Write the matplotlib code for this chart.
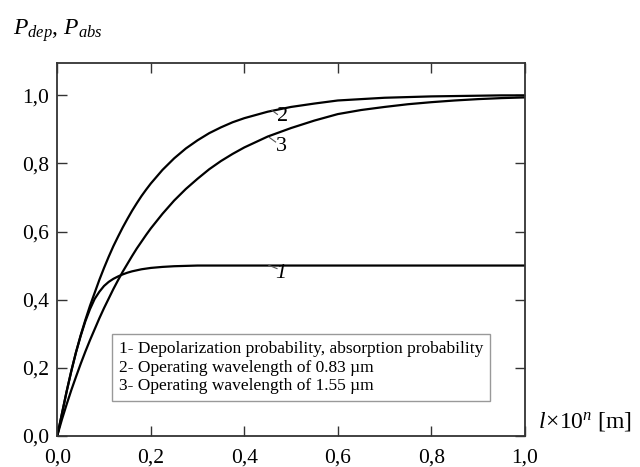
import numpy as np
from matplotlib import pyplot as plt

plt.rcParams['font.family'] = ['Liberation Serif', 'DejaVu Serif']
plt.rcParams['mathtext.fontset'] = 'custom'
plt.rcParams['mathtext.rm'] = 'Liberation Serif'
plt.rcParams['mathtext.it'] = 'Liberation Serif:italic'

# values
x = [0.0, 0.01, 0.02, 0.03, 0.04, 0.05, 0.06, 0.07, 0.08, 0.09, 0.10,
     0.11, 0.12, 0.13, 0.14, 0.15, 0.16, 0.17, 0.18, 0.19, 0.20,
     0.225, 0.25, 0.275, 0.30, 0.325, 0.35, 0.375, 0.40, 0.45, 0.50,
     0.55, 0.60, 0.65, 0.70, 0.75, 0.80, 0.85, 0.90, 0.95, 1.00]
p_dep = [0.0, 0.065, 0.13, 0.19, 0.245, 0.293, 0.336, 0.372, 0.402, 0.423, 0.44,
         0.452, 0.461, 0.468, 0.474, 0.479, 0.483, 0.486, 0.489, 0.491, 0.493,
         0.496, 0.498, 0.499, 0.5, 0.5, 0.5, 0.5, 0.5, 0.5, 0.5,
         0.5, 0.5, 0.5, 0.5, 0.5, 0.5, 0.5, 0.5, 0.5, 0.5]
p_083 = [0.0, 0.065, 0.13, 0.19, 0.245, 0.295, 0.34, 0.382, 0.42, 0.458, 0.493,
         0.526, 0.557, 0.585, 0.612, 0.637, 0.661, 0.683, 0.704, 0.723, 0.741,
         0.781, 0.815, 0.844, 0.868, 0.889, 0.906, 0.921, 0.933, 0.952, 0.966,
         0.976, 0.985, 0.989, 0.993, 0.995, 0.997, 0.998, 0.999, 1.0, 1.0]
p_155 = [0.0, 0.048, 0.092, 0.134, 0.173, 0.211, 0.247, 0.281, 0.313, 0.345, 0.375,
         0.403, 0.431, 0.457, 0.482, 0.505, 0.528, 0.55, 0.57, 0.59, 0.609,
         0.652, 0.691, 0.725, 0.755, 0.783, 0.807, 0.828, 0.847, 0.879, 0.904,
         0.926, 0.945, 0.957, 0.966, 0.974, 0.98, 0.985, 0.989, 0.992, 0.994]

x_ticks = [0.0, 0.2, 0.4, 0.6, 0.8, 1.0]
x_labels = ['0,0', '0,2', '0,4', '0,6', '0,8', '1,0']
y_ticks = [0.0, 0.2, 0.4, 0.6, 0.8, 1.0]
y_labels = ['0,0', '0,2', '0,4', '0,6', '0,8', '1,0']

legend_text = ("1- Depolarization probability, absorption probability\n"
               "2- Operating wavelength of 0.83 \u00b5m\n"
               "3- Operating wavelength of 1.55 \u00b5m")

fig = plt.figure(figsize=(6.4, 4.67), dpi=100)
ax = fig.add_axes([0.0895, 0.067, 0.7305, 0.798])

for y in (p_dep, p_083, p_155):
    ax.plot(x, y, color='black', lw=1.6)

ax.set_xlim(0, 1.0)
ax.set_ylim(0, 1.095)
ax.set_xticks(x_ticks)
ax.set_xticklabels(x_labels)
ax.set_yticks(y_ticks)
ax.set_yticklabels(y_labels)
ax.tick_params(direction='in', top=True, right=True, length=7, width=1.0,
               labelsize=15.5, color='#333333')
ax.tick_params(axis='x', pad=9)
ax.tick_params(axis='y', pad=6)
for s in ax.spines.values():
    s.set_linewidth(1.3)
    s.set_color('#333333')

# curve labels with little leader lines
ax.plot([0.459, 0.471], [0.956, 0.944], color='#555555', lw=0.8)
ax.text(0.481, 0.938, '2', fontsize=16, ha='center', va='center')
ax.plot([0.454, 0.467], [0.876, 0.863], color='#555555', lw=0.8)
ax.text(0.479, 0.851, '3', fontsize=16, ha='center', va='center')
ax.plot([0.452, 0.470], [0.501, 0.491], color='#555555', lw=0.8)
ax.text(0.479, 0.476, '1', fontsize=16, ha='center', va='center', style='italic')

ax.text(0.131, 0.2, legend_text, fontsize=12.5, ha='left', va='center',
        linespacing=1.2,
        bbox=dict(boxstyle='square,pad=0.4', fc='white', ec='#999999', lw=1.0))

fig.text(0.02, 0.925, r'$P_{dep}$, $P_{abs}$', fontsize=17, ha='left', va='baseline')
fig.text(0.84, 0.085, r'$l\!\times\!10^{n}$ [m]', fontsize=17, ha='left', va='baseline')

fig.savefig('out.png', dpi=100)
